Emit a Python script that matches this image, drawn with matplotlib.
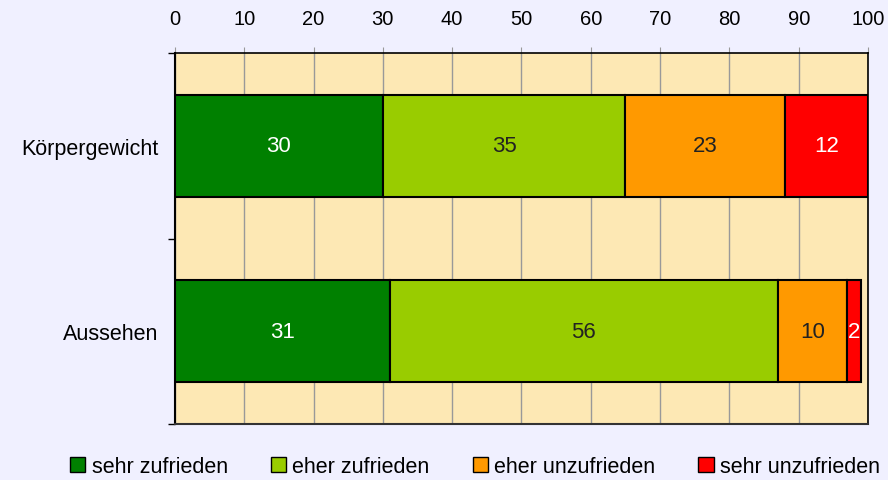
import matplotlib.pyplot as plt
from matplotlib.patches import Patch

plt.rcParams['font.family'] = ['Liberation Sans', 'DejaVu Sans']

categories = ["Körpergewicht", "Aussehen"]
series_names = ["sehr zufrieden", "eher zufrieden", "eher unzufrieden", "sehr unzufrieden"]
values = [
    [30, 31],   # sehr zufrieden
    [35, 56],   # eher zufrieden
    [23, 10],   # eher unzufrieden
    [12, 2],    # sehr unzufrieden
]
colors = ["#008000", "#99CC00", "#FF9900", "#FF0000"]
text_colors = ["white", "#222222", "#222222", "white"]

fig = plt.figure(figsize=(8.88, 4.81), dpi=100)
fig.patch.set_facecolor("#F0F0FF")
ax = fig.add_axes([0.197, 0.1164, 0.7805, 0.7713])
ax.set_facecolor("#FDE8B4")

ypos = list(range(len(categories)))
left = [0] * len(categories)
for vals, col, tc in zip(values, colors, text_colors):
    bars = ax.barh(ypos, vals, left=left, height=0.55, color=col,
                   edgecolor="black", linewidth=1.5, zorder=3)
    for b, v in zip(bars, vals):
        ax.text(b.get_x() + b.get_width() / 2, b.get_y() + b.get_height() / 2,
                str(v), ha="center", va="center", fontsize=16, color=tc, zorder=4)
    left = [l + v for l, v in zip(left, vals)]

ax.set_xlim(0, 100)
ax.set_ylim(1.5, -0.5)
ax.set_xticks(range(0, 101, 10))
ax.xaxis.tick_top()
ax.tick_params(axis="x", length=4, color="#999999", labelsize=14.5, pad=14)
ax.grid(axis="x", color="#999999", linewidth=1, zorder=1)

ax.set_yticks(ypos)
ax.set_yticklabels(categories, fontsize=15.5)
ax.tick_params(axis="y", which="major", length=0, pad=12)
ax.set_yticks([-0.5, 0.5, 1.5], minor=True)
ax.tick_params(axis="y", which="minor", length=5, color="black", width=1)

for s in ["top", "right"]:
    ax.spines[s].set_color("black")
    ax.spines[s].set_linewidth(1.2)
ax.spines["left"].set_color("black")
ax.spines["left"].set_linewidth(1.5)
ax.spines["bottom"].set_color("#333333")
ax.spines["bottom"].set_linewidth(1.5)

handles = [Patch(facecolor=c, edgecolor="black", label=n) for c, n in zip(colors, series_names)]
fig.legend(handles=handles, loc="lower center", ncol=4, frameon=False,
           bbox_to_anchor=(0.535, -0.035), fontsize=15.5, handlelength=0.7,
           handleheight=0.7, handletextpad=0.3, columnspacing=2.0)

fig.savefig("out.png", dpi=100, facecolor=fig.get_facecolor())
